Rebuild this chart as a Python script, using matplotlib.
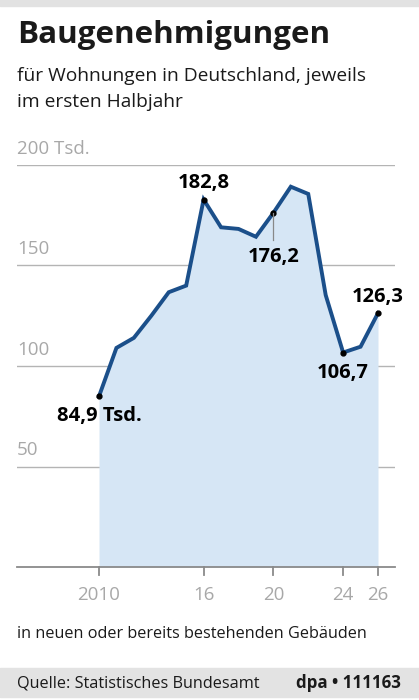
import matplotlib as mat
mat.use("Agg")
from matplotlib import pyplot as plt
from matplotlib.patches import Rectangle
import matplotlib.transforms as mtrans

years = [2010, 2011, 2012, 2013, 2014, 2015, 2016, 2017, 2018,
         2019, 2020, 2021, 2022, 2023, 2024, 2025, 2026]
permits = [84.9, 109.0, 114.0, 125.0, 136.7, 140.0, 182.8, 169.0, 168.2,
           164.3, 176.2, 189.2, 185.6, 135.3, 106.7, 109.6, 126.3]
xtick_years = [2010, 2016, 2020, 2024, 2026]
xtick_labels = ["2010", "16", "20", "24", "26"]
ytick_values = [50, 100, 150, 200]
ytick_labels = ["50", "100", "150", "200 Tsd."]
# labelled points: year, text, position
labels = [(2010, "84,9 Tsd.", "below"), (2016, "182,8", "above"),
          (2020, "176,2", "leader"), (2024, "106,7", "below"),
          (2026, "126,3", "above")]

plt.rcParams['font.family'] = ['Open Sans', 'DejaVu Sans']
line_col = "#1b4f8a"
fill_col = "#d6e6f5"
grid_col = "#b4b4b4"
tick_col = "#a8a8a8"

fig = plt.figure(figsize=(4.19, 7.0), dpi=100)
fig.patch.set_facecolor("white")

# grey strips top and bottom
fig.patches.append(Rectangle((0, 1 - 6 / 700), 1, 6 / 700, transform=fig.transFigure,
                             color="#e2e2e2", zorder=0))
fig.patches.append(Rectangle((0, 3 / 700), 1, 29 / 700, transform=fig.transFigure,
                             color="#e3e3e3", zorder=0))

fig.text(17 / 419, 1 - 35 / 700, "Baugenehmigungen", fontsize=22.6, fontweight="bold",
         color="#1a1a1a", va="center", ha="left")
fig.text(17 / 419, 1 - 76 / 700, "für Wohnungen in Deutschland, jeweils", fontsize=13.8,
         color="#1a1a1a", va="center", ha="left")
fig.text(17 / 419, 1 - 102 / 700, "im ersten Halbjahr", fontsize=13.8,
         color="#1a1a1a", va="center", ha="left")

ax = fig.add_axes([17 / 419, 1 - 567 / 700, 378 / 419, 402 / 700])
ax.set_xlim(2010 - 82 / 17.44, 2026 + 17 / 17.44)
ax.set_ylim(0, 200)
ax.axis("off")

for v, t in zip(ytick_values, ytick_labels):
    ax.axhline(v, color=grid_col, lw=1.0, zorder=1)
    ax.text(0.0, v + 3.5, t, transform=mtrans.blended_transform_factory(ax.transAxes, ax.transData),
            fontsize=13.5, color=tick_col, ha="left", va="bottom")

ax.fill_between(years, permits, 0, color=fill_col, lw=0, zorder=2)
ax.plot(years, permits, color=line_col, lw=2.8, zorder=3, solid_joinstyle="miter")

ax.axhline(0, color="#8a8a8a", lw=1.3, zorder=4, clip_on=False)
for yr, lab in zip(xtick_years, xtick_labels):
    ax.plot([yr, yr], [0, -4], color="#8a8a8a", lw=1.3, clip_on=False, zorder=4)
    ax.text(yr, -14, lab, fontsize=13.5, color=tick_col, ha="center", va="center")

for yr, txt, pos in labels:
    val = permits[years.index(yr)]
    ax.plot(yr, val, "o", color="black", ms=3.5, zorder=5)
    if pos == "above":
        ax.text(yr, val + 8, txt, fontsize=14.5, fontweight="bold", ha="center", va="center")
    elif pos == "below":
        ax.text(yr, val - 10, txt, fontsize=14.5, fontweight="bold", ha="center", va="center")
    else:
        ax.plot([yr, yr], [val, val - 13.5], color="#888888", lw=0.9, zorder=5)
        ax.text(yr, val - 22, txt, fontsize=14.5, fontweight="bold", ha="center", va="center")

fig.text(17 / 419, 1 - 634 / 700, "in neuen oder bereits bestehenden Gebäuden", fontsize=11.7,
         color="#1a1a1a", va="center", ha="left")
fig.text(17 / 419, 1 - 683 / 700, "Quelle: Statistisches Bundesamt", fontsize=11.7,
         color="#1a1a1a", va="center", ha="left")
fig.text(401 / 419, 1 - 683 / 700, "dpa • 111163", fontsize=12.2, fontweight="bold",
         color="#1a1a1a", va="center", ha="right")

plt.savefig("out.png", dpi=100)
plt.close("all")
